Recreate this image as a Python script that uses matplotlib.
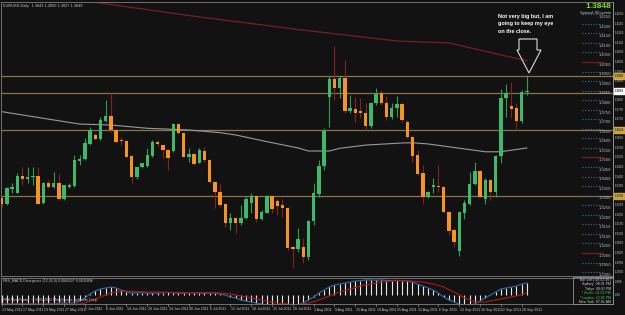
import numpy as np
import matplotlib
matplotlib.use("Agg")
from matplotlib import pyplot as plt
from matplotlib.transforms import blended_transform_factory
from matplotlib.patches import Polygon, Rectangle

plt.rcParams['font.family'] = ['Liberation Sans', 'DejaVu Sans']

# EURUSD daily candles
opens = [1.3286, 1.3257, 1.3335, 1.3316, 1.3403, 1.3389, 1.3398, 1.3403, 1.3264, 1.3368,
         1.3347, 1.3368, 1.3281, 1.3347, 1.3351, 1.3483, 1.3490, 1.3571, 1.3618, 1.3597,
         1.3693, 1.3717, 1.3644, 1.3592, 1.3588, 1.3508, 1.3396, 1.3449, 1.3455, 1.3508,
         1.3583, 1.3565, 1.3539, 1.3536, 1.3674, 1.3627, 1.3504, 1.3518, 1.3473, 1.3536,
         1.3487, 1.3373, 1.3321, 1.3257, 1.3159, 1.3181, 1.3159, 1.3181, 1.3264, 1.3298,
         1.3180, 1.3211, 1.3298, 1.3274, 1.3251, 1.3237, 1.3030, 1.3019, 1.3030, 1.2981,
         1.3168, 1.3309, 1.3455, 1.3815, 1.3909, 1.3862, 1.3918, 1.3745, 1.3752, 1.3743,
         1.3731, 1.3665, 1.3784, 1.3839, 1.3787, 1.3714, 1.3757, 1.3778, 1.3688, 1.3609,
         1.3513, 1.3417, 1.3291, 1.3346, 1.3351, 1.3347, 1.3216, 1.3120, 1.3012, 1.3208,
         1.3257, 1.3361, 1.3429, 1.3281, 1.3382, 1.3321, 1.3508, 1.3810, 1.3770, 1.3757,
         1.3691, 1.3841]
highs = [1.3291, 1.3347, 1.3365, 1.3417, 1.3452, 1.3452, 1.3452, 1.3452, 1.3373, 1.3382,
         1.3424, 1.3414, 1.3356, 1.3365, 1.3513, 1.3513, 1.3600, 1.3661, 1.3627, 1.3714,
         1.3801, 1.3836, 1.3647, 1.3609, 1.3592, 1.3513, 1.3452, 1.3473, 1.3548, 1.3592,
         1.3592, 1.3571, 1.3543, 1.3682, 1.3679, 1.3630, 1.3548, 1.3522, 1.3548, 1.3557,
         1.3490, 1.3379, 1.3361, 1.3260, 1.3208, 1.3190, 1.3251, 1.3298, 1.3312, 1.3298,
         1.3225, 1.3304, 1.3298, 1.3281, 1.3281, 1.3243, 1.3033, 1.3129, 1.3077, 1.3173,
         1.3365, 1.3487, 1.3653, 1.3927, 1.4085, 1.3932, 1.4010, 1.3827, 1.3818, 1.3810,
         1.3784, 1.3792, 1.3862, 1.3853, 1.3822, 1.3784, 1.3822, 1.3784, 1.3696, 1.3613,
         1.3539, 1.3461, 1.3326, 1.3391, 1.3461, 1.3351, 1.3222, 1.3129, 1.3216, 1.3277,
         1.3426, 1.3478, 1.3435, 1.3391, 1.3386, 1.3513, 1.3859, 1.3883, 1.3897, 1.3784,
         1.3853, 1.3932]
lows = [1.3243, 1.3251, 1.3316, 1.3312, 1.3356, 1.3365, 1.3356, 1.3257, 1.3257, 1.3339,
        1.3339, 1.3277, 1.3277, 1.3339, 1.3347, 1.3461, 1.3487, 1.3565, 1.3592, 1.3592,
        1.3688, 1.3635, 1.3574, 1.3565, 1.3501, 1.3368, 1.3386, 1.3443, 1.3452, 1.3504,
        1.3560, 1.3496, 1.3435, 1.3531, 1.3623, 1.3501, 1.3478, 1.3461, 1.3469, 1.3478,
        1.3368, 1.3234, 1.3243, 1.3138, 1.3120, 1.3103, 1.3147, 1.3176, 1.3211, 1.3164,
        1.3173, 1.3208, 1.3208, 1.3199, 1.3190, 1.3016, 1.2920, 1.3007, 1.2946, 1.2963,
        1.3147, 1.3295, 1.3435, 1.3661, 1.3801, 1.3810, 1.3735, 1.3731, 1.3688, 1.3705,
        1.3644, 1.3653, 1.3775, 1.3775, 1.3696, 1.3700, 1.3714, 1.3688, 1.3600, 1.3478,
        1.3408, 1.3257, 1.3286, 1.3316, 1.3321, 1.3208, 1.3094, 1.3033, 1.2984, 1.3176,
        1.3251, 1.3356, 1.3291, 1.3257, 1.3277, 1.3295, 1.3473, 1.3714, 1.3705, 1.3644,
        1.3682, 1.3827]
closes = [1.3257, 1.3339, 1.3347, 1.3403, 1.3389, 1.3400, 1.3403, 1.3257, 1.3368, 1.3347,
          1.3368, 1.3281, 1.3356, 1.3356, 1.3487, 1.3494, 1.3578, 1.3644, 1.3597, 1.3696,
          1.3717, 1.3644, 1.3583, 1.3585, 1.3504, 1.3400, 1.3449, 1.3469, 1.3513, 1.3583,
          1.3569, 1.3539, 1.3499, 1.3674, 1.3630, 1.3504, 1.3518, 1.3466, 1.3539, 1.3487,
          1.3373, 1.3321, 1.3251, 1.3159, 1.3181, 1.3159, 1.3181, 1.3284, 1.3298, 1.3180,
          1.3215, 1.3298, 1.3232, 1.3246, 1.3237, 1.3028, 1.3019, 1.3072, 1.2981, 1.3168,
          1.3312, 1.3455, 1.3640, 1.3909, 1.3862, 1.3918, 1.3745, 1.3757, 1.3735, 1.3731,
          1.3665, 1.3787, 1.3831, 1.3784, 1.3714, 1.3757, 1.3778, 1.3696, 1.3606, 1.3510,
          1.3414, 1.3295, 1.3318, 1.3356, 1.3346, 1.3216, 1.3117, 1.3059, 1.3213, 1.3260,
          1.3361, 1.3431, 1.3295, 1.3382, 1.3321, 1.3508, 1.3810, 1.3839, 1.3752, 1.3693,
          1.3841, 1.3848]

# moving averages (read at a few bars)
ma_gray_idx = [0, 15, 21, 28, 36, 42, 45, 51, 57, 59, 63, 65, 70, 77, 79, 82, 89, 93, 96, 101]
ma_gray = [1.3740, 1.3675, 1.3670, 1.3653, 1.3644, 1.3630, 1.3618, 1.3583, 1.3550, 1.3534,
           1.3534, 1.3548, 1.3565, 1.3576, 1.3577, 1.3571, 1.3545, 1.3530, 1.3530, 1.3550]
ma_red_idx = [16, 38, 57, 76, 86, 96, 101]
ma_red = [1.4320, 1.4236, 1.4170, 1.4110, 1.4100, 1.4037, 1.4007]

# MACD indicator
macd = [-0.0045] * 11 + [-0.0040] * 4 + [
    -0.0030, -0.0015, 0.0005, 0.0020, 0.0030, 0.0035, 0.0040, 0.0035, 0.0025, 0.0015,
    0.0010, 0.0010, 0.0012, 0.0010, 0.0008, 0.0010, 0.0012, 0.0013, 0.0011, 0.0009,
    0.0010, 0.0012, 0.0011, 0.0010, 0.0009, 0.0010, 0.0010, 0.0005, 0.0000, -0.0010,
    -0.0015, -0.0025, -0.0030, -0.0035, -0.0040, -0.0045, -0.0050, -0.0050, -0.0055, -0.0055,
    -0.0055, -0.0055, -0.0050, -0.0040, -0.0025, -0.0010, 0.0010, 0.0025, 0.0040, 0.0050,
    0.0055, 0.0060, 0.0065, 0.0070, 0.0072, 0.0075, 0.0075, 0.0074, 0.0075, 0.0073,
    0.0072, 0.0073, 0.0072, 0.0070, 0.0065, 0.0055, 0.0045, 0.0035, 0.0025, 0.0010,
    -0.0010, -0.0025, -0.0035, -0.0045, -0.0050, -0.0050, -0.0045, -0.0030, -0.0015, 0.0000,
    0.0015, 0.0030, 0.0035, 0.0040, 0.0045, 0.0055, 0.0060]
signal = [-0.0045] * 16 + [
    -0.0040, -0.0030, -0.0020, -0.0010, 0.0000, 0.0010, 0.0015, 0.0020, 0.0020, 0.0018,
    0.0017, 0.0016, 0.0015, 0.0015, 0.0014, 0.0014, 0.0013, 0.0013, 0.0012, 0.0012,
    0.0012, 0.0012, 0.0012, 0.0012, 0.0012, 0.0011, 0.0010, 0.0008, 0.0005, 0.0000,
    -0.0005, -0.0010, -0.0015, -0.0020, -0.0025, -0.0030, -0.0035, -0.0040, -0.0043, -0.0045,
    -0.0047, -0.0048, -0.0045, -0.0040, -0.0033, -0.0025, -0.0015, -0.0005, 0.0005, 0.0015,
    0.0022, 0.0030, 0.0037, 0.0045, 0.0050, 0.0055, 0.0060, 0.0065, 0.0067, 0.0070,
    0.0072, 0.0072, 0.0070, 0.0070, 0.0067, 0.0065, 0.0060, 0.0055, 0.0047, 0.0040,
    0.0027, 0.0015, 0.0000, -0.0015, -0.0025, -0.0035, -0.0035, -0.0035, -0.0030, -0.0025,
    -0.0020, -0.0015, -0.0010, -0.0005, 0.0002, 0.0010]

date_ticks = list(range(0, 101, 4))
date_labels = ["13 May 2011", "17 May 2011", "23 May 2011", "27 May 2011", "2 Jun 2011",
               "8 Jun 2011", "14 Jun 2011", "20 Jun 2011", "24 Jun 2011", "30 Jun 2011",
               "6 Jul 2011", "12 Jul 2011", "18 Jul 2011", "22 Jul 2011", "28 Jul 2011",
               "3 Aug 2011", "9 Aug 2011", "15 Aug 2011", "19 Aug 2011", "25 Aug 2011",
               "31 Aug 2011", "6 Sep 2011", "12 Sep 2011", "16 Sep 2011", "22 Sep 2011",
               "28 Sep 2011"]

# horizontal support / resistance lines drawn by the user
sr_levels = [1.3928, 1.3836, 1.3644, 1.3298]
sr_tags = ["1.3928", "", "1.3644", "1.3298"]

# round-number levels from the on-chart indicator
level_prices = [1.4250, 1.4200, 1.4150, 1.4100, 1.4050, 1.4000, 1.3950, 1.3900, 1.3850,
                1.3800, 1.3750, 1.3700, 1.3650, 1.3600, 1.3550, 1.3500, 1.3450, 1.3400,
                1.3350, 1.3300, 1.3250, 1.3200, 1.3150, 1.3100, 1.3050, 1.3000, 1.2950,
                1.2900]
major_levels = [1.4000, 1.3500, 1.3000]
last_price = 1.3848

W, H = 625, 315
BG = "#121212"
GREEN = "#3cba6a"
ORANGE = "#f7941d"
TAN = "#8a7448"
TXT = "#c8c8c8"


def fx(x):
    return x / W


def fy(y):
    return 1 - y / H


def price_y(p):
    # pixel row of a price in the main window
    return 253 - (p - 1.3) * 1910


fig = plt.figure(figsize=(W / 100, H / 100), dpi=100, facecolor=BG)

# main price window
ax = fig.add_axes([fx(1), fy(276), fx(612), (276 - 2) / H], facecolor=BG)
ax.set_xlim(-0.13, 117.57)
ax.set_ylim(1.28796, 1.43141)
for s in ax.spines.values():
    s.set_color("#707070")
    s.set_linewidth(0.7)
ax.set_xticks([])
ax.set_yticks([])

idx = np.arange(len(opens))
o = np.array(opens)
c = np.array(closes)
up = c >= o

ax.plot(ma_gray_idx, ma_gray, color="#9a9a9a", lw=0.8, zorder=2)
ax.plot(ma_red_idx, ma_red, color="#7a1c2c", lw=0.9, zorder=2)

for lv in sr_levels:
    ax.axhline(lv, color=TAN, lw=0.9, zorder=1)

ax.vlines(idx[up], np.array(lows)[up], np.array(highs)[up], color="#2f9a55", lw=0.8, zorder=3)
ax.vlines(idx[~up], np.array(lows)[~up], np.array(highs)[~up], color="#8c1f1f", lw=0.8, zorder=3)
body_h = np.maximum(np.abs(c - o), 0.00025)
ax.bar(idx[up], body_h[up], bottom=np.minimum(o, c)[up], width=0.64, color=GREEN, zorder=4)
ax.bar(idx[~up], body_h[~up], bottom=np.minimum(o, c)[~up], width=0.64, color=ORANGE, zorder=4)

# level markers on the right of the chart
tr = blended_transform_factory(ax.transAxes, ax.transData)
x0 = (582 - 1) / 612
x1 = (603 - 1) / 612
for lv in level_prices:
    if lv in major_levels:
        ax.plot([x0, x1], [lv, lv], transform=tr, color="#7a1c1c", lw=0.9, zorder=5)
    else:
        ax.plot([x0, x1], [lv, lv], transform=tr, color="#3a7090", lw=0.8, ls=(0, (1, 1.5)), zorder=5)
    ax.text((611 - 1) / 612, lv - 0.0004, f"{lv:.4f}", transform=tr, ha="right", va="top",
            fontsize=3.0, color="#b8b8b8", zorder=6)

# header texts
fig.text(fx(3), fy(6), "EURUSD,Daily  1.3843 1.3850 1.3827 1.3848", fontsize=2.8,
         color=TXT, va="center")
fig.text(fx(611), fy(6.5), f"{last_price:.4f}", fontsize=6, color="#7fdc2a",
         fontweight="bold", ha="right", va="center")
fig.text(fx(611), fy(13), "Spread: 60 points", fontsize=2.9, color=TXT,
         ha="right", va="center")

# annotation and hollow arrow
fig.text(fx(498), fy(14), "Not very big but, I am\ngoing to keep my eye\non the close.",
         fontsize=3.9, color="white", fontweight="bold", va="top", ha="left",
         linespacing=1.6)
arrow = [(519, 39), (537, 39), (537, 50), (541, 50), (529, 73), (517, 50), (519, 50)]
fig.patches.append(Polygon([(fx(x), fy(y)) for x, y in arrow], closed=True,
                           fill=False, edgecolor="#d8d8d8", lw=0.8,
                           transform=fig.transFigure))

# price axis column on the far right
fig.add_artist(plt.Line2D([fx(613), fx(613)], [fy(2), fy(304)], color="#909090", lw=0.7))
for lv in level_prices:
    fig.text(fx(614.5), fy(price_y(lv)), f"{lv:.4f}", fontsize=2.2, color=TXT, va="center")
for lv, tag in zip(sr_levels, sr_tags):
    if not tag:
        continue
    yy = price_y(lv)
    fig.patches.append(Rectangle((fx(613.5), fy(yy + 3)), fx(12), 6 / H, color="#c9a43c",
                                 transform=fig.transFigure, zorder=3))
    fig.text(fx(614.5), fy(yy), tag, fontsize=2.2, color="black", va="center", zorder=4)
yy = price_y(last_price)
fig.patches.append(Rectangle((fx(613.5), fy(yy + 3)), fx(12), 6 / H, color="white",
                             transform=fig.transFigure, zorder=3))
fig.text(fx(614.5), fy(yy), f"{last_price:.4f}", fontsize=2.2, color="black", va="center",
         zorder=4)

# MACD window
ax2 = fig.add_axes([fx(1), fy(304), fx(612), (304 - 278) / H], facecolor=BG)
ax2.set_xlim(-0.13, 117.57)
ax2.set_ylim(-0.0045, 0.0085)
for s in ax2.spines.values():
    s.set_color("#707070")
    s.set_linewidth(0.7)
ax2.set_xticks([])
ax2.set_yticks([])
ax2.vlines(idx, 0, macd, color="#e8e8e8", lw=0.8)
ax2.plot(idx, macd, color="#2a6fb0", lw=0.8)
ax2.plot(idx, signal, color="#b01818", lw=0.8)
ax2.text(0.003, 0.95, "FBS_MACD Divergence (12,26,9) 0.0060327 0.0035896", transform=ax2.transAxes,
         fontsize=2.6, color=TXT, va="top")
ax2.text(0.003, 0.06, "FBS MetaTrader  \u00a9 2001-2011 MetaQuotes Software Corp.",
         transform=ax2.transAxes, fontsize=2.6, color=TXT, va="bottom")
fig.text(fx(614.5), fy(295), "0.00", fontsize=2.2, color=TXT, va="center")
fig.text(fx(614.5), fy(282), "0.008", fontsize=2.2, color=TXT, va="center")

# session clock box
fig.patches.append(Rectangle((fx(573), fy(304)), fx(40), 27 / H, fill=False,
                             edgecolor="#909090", lw=0.6, transform=fig.transFigure))
clock = [("Bar Left | 09:52:38 |", "#d0d0d0"), ("Sydney  08:01 PM", "#d0d0d0"),
         ("Tokyo  08:01 PM", "#d0d0d0"), ("* Berlin  01:01 PM", "#40d040"),
         ("* London  12:01 PM", "#40d040"), ("New York  07:01 AM", "#d0d0d0")]
for k, (t, col) in enumerate(clock):
    fig.text(fx(611), fy(280 + k * 4.4), t, fontsize=2.5, color=col, ha="right", va="center")

# date axis
for t, lab in zip(date_ticks, date_labels):
    xpix = 1 + (t + 0.13) * 5.2
    fig.add_artist(plt.Line2D([fx(xpix), fx(xpix)], [fy(304), fy(306)], color="#909090", lw=0.5))
    fig.text(fx(xpix + 0.5), fy(309.5), lab, fontsize=2.5, color="#d0d0d0", va="center", ha="left")

fig.savefig("out.png", dpi=100, facecolor=BG)
